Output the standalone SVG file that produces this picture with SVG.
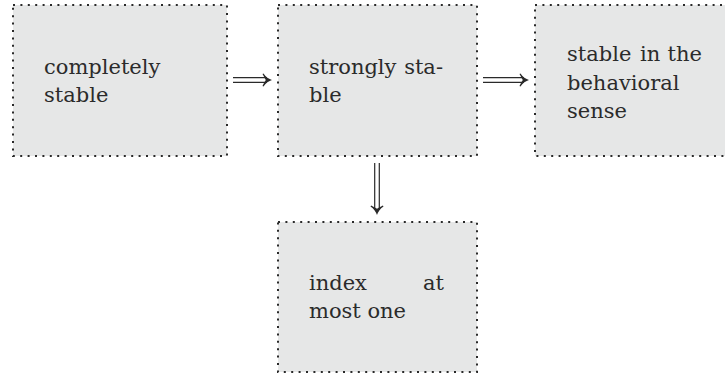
<svg xmlns="http://www.w3.org/2000/svg" width="725" height="376" viewBox="0 0 725 376">
<style>
.box{fill:#e6e7e7;stroke:#2a2a2a;stroke-width:2;stroke-dasharray:2 5.4}
.t{font-family:'DejaVu Serif',serif;font-size:21px;fill:#2b2b2b}
.ln{stroke:#2a2a2a;stroke-width:1.2;fill:none}
.hd{fill:#2a2a2a}
</style>
<defs>
<path id="head" class="hd" d="M0,0 C-3,-0.9 -6.5,-3.2 -8.5,-6.5 L-9.5,-5.9 C-8,-3.2 -7.3,-1.6 -6.2,0 C-7.3,1.6 -8,3.2 -9.5,5.9 L-8.5,6.5 C-6.5,3.2 -3,0.9 0,0 Z"/>
</defs>
<rect width="725" height="376" fill="#ffffff"/>
<g id="n1">
<rect class="box" x="13" y="5" width="214" height="151"/>
<text class="t" x="44" y="74">completely</text>
<text class="t" x="44" y="102">stable</text>
</g>
<g id="n2">
<rect class="box" x="278" y="5" width="199" height="151"/>
<text class="t" x="309" y="74">strongly</text>
<text class="t" x="443" y="74" text-anchor="end">sta-</text>
<text class="t" x="309" y="102">ble</text>
</g>
<g id="n3">
<rect class="box" x="535" y="5" width="200" height="151"/>
<text class="t" x="567" y="61">stable</text>
<text class="t" x="640" y="61">in</text>
<text class="t" x="702" y="61" text-anchor="end">the</text>
<text class="t" x="567" y="90">behavioral</text>
<text class="t" x="567" y="118">sense</text>
</g>
<g id="n4">
<rect class="box" x="278" y="222" width="199" height="150"/>
<text class="t" x="309" y="290">index</text>
<text class="t" x="444" y="290" text-anchor="end">at</text>
<text class="t" x="309" y="318">most one</text>
</g>
<g id="connectors">
<path class="ln" d="M233,77.7 H267 M233,82.3 H267"/>
<use href="#head" transform="translate(272,80)"/>
<path class="ln" d="M483,77.7 H524 M483,82.3 H524"/>
<use href="#head" transform="translate(529,80)"/>
<path class="ln" d="M374.7,163 V210 M379.3,163 V210"/>
<use href="#head" transform="translate(377,215) rotate(90)"/>
</g>
</svg>
